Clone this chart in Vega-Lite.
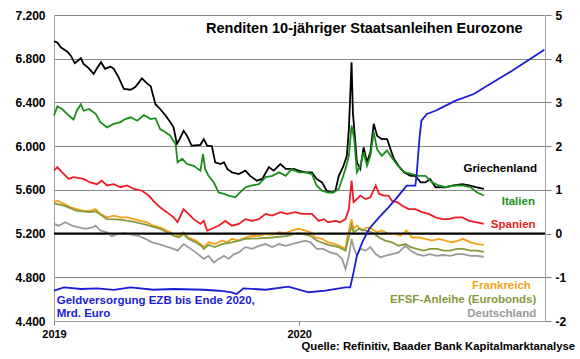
{
  "$schema": "https://vega.github.io/schema/vega-lite/v6.json",
  "width": 491,
  "height": 306,
  "padding": {"left": 14, "top": 9, "right": 2, "bottom": 2},
  "background": "white",
  "config": {"view": {"stroke": null}, "font": "Liberation Sans"},
  "title": {"text": "Quelle: Refinitiv, Baader Bank Kapitalmarktanalyse", "orient": "bottom", "anchor": "end", "frame": "group", "dx": 30, "offset": 2, "fontSize": 11.3, "fontWeight": "bold", "color": "#000000", "font": "Liberation Sans"},
  "datasets": {
    "yields": [
      {"date":"2019-01-01","series":"Griechenland","value":4.40},{"date":"2019-01-06","series":"Griechenland","value":4.37},{"date":"2019-01-11","series":"Griechenland","value":4.26},{"date":"2019-01-21","series":"Griechenland","value":4.16},{"date":"2019-01-26","series":"Griechenland","value":4.07},{"date":"2019-02-01","series":"Griechenland","value":3.90},{"date":"2019-02-10","series":"Griechenland","value":4.01},{"date":"2019-02-14","series":"Griechenland","value":3.88},{"date":"2019-02-22","series":"Griechenland","value":3.78},{"date":"2019-03-01","series":"Griechenland","value":3.65},{"date":"2019-03-06","series":"Griechenland","value":3.78},{"date":"2019-03-12","series":"Griechenland","value":3.92},{"date":"2019-03-18","series":"Griechenland","value":3.77},{"date":"2019-03-26","series":"Griechenland","value":3.82},{"date":"2019-03-31","series":"Griechenland","value":3.77},{"date":"2019-04-07","series":"Griechenland","value":3.58},{"date":"2019-04-15","series":"Griechenland","value":3.31},{"date":"2019-04-25","series":"Griechenland","value":3.29},{"date":"2019-05-02","series":"Griechenland","value":3.35},{"date":"2019-05-12","series":"Griechenland","value":3.55},{"date":"2019-05-19","series":"Griechenland","value":3.44},{"date":"2019-05-25","series":"Griechenland","value":3.37},{"date":"2019-06-01","series":"Griechenland","value":2.96},{"date":"2019-06-08","series":"Griechenland","value":2.85},{"date":"2019-06-16","series":"Griechenland","value":2.70},{"date":"2019-06-23","series":"Griechenland","value":2.55},{"date":"2019-06-28","series":"Griechenland","value":2.43},{"date":"2019-07-03","series":"Griechenland","value":2.05},{"date":"2019-07-07","series":"Griechenland","value":2.16},{"date":"2019-07-13","series":"Griechenland","value":2.35},{"date":"2019-07-18","series":"Griechenland","value":2.24},{"date":"2019-07-25","series":"Griechenland","value":2.01},{"date":"2019-08-07","series":"Griechenland","value":2.03},{"date":"2019-08-12","series":"Griechenland","value":2.16},{"date":"2019-08-17","series":"Griechenland","value":2.01},{"date":"2019-08-24","series":"Griechenland","value":2.00},{"date":"2019-08-29","series":"Griechenland","value":1.63},{"date":"2019-09-06","series":"Griechenland","value":1.59},{"date":"2019-09-11","series":"Griechenland","value":1.63},{"date":"2019-09-16","series":"Griechenland","value":1.48},{"date":"2019-09-23","series":"Griechenland","value":1.40},{"date":"2019-10-03","series":"Griechenland","value":1.36},{"date":"2019-10-13","series":"Griechenland","value":1.44},{"date":"2019-10-20","series":"Griechenland","value":1.32},{"date":"2019-10-30","series":"Griechenland","value":1.21},{"date":"2019-11-07","series":"Griechenland","value":1.25},{"date":"2019-11-17","series":"Griechenland","value":1.52},{"date":"2019-11-24","series":"Griechenland","value":1.44},{"date":"2019-12-04","series":"Griechenland","value":1.59},{"date":"2019-12-12","series":"Griechenland","value":1.48},{"date":"2019-12-24","series":"Griechenland","value":1.48},{"date":"2019-12-31","series":"Griechenland","value":1.44},{"date":"2020-01-10","series":"Griechenland","value":1.40},{"date":"2020-01-20","series":"Griechenland","value":1.40},{"date":"2020-01-27","series":"Griechenland","value":1.25},{"date":"2020-02-04","series":"Griechenland","value":1.17},{"date":"2020-02-11","series":"Griechenland","value":0.98},{"date":"2020-02-19","series":"Griechenland","value":0.94},{"date":"2020-02-24","series":"Griechenland","value":0.98},{"date":"2020-02-29","series":"Griechenland","value":1.32},{"date":"2020-03-07","series":"Griechenland","value":1.55},{"date":"2020-03-12","series":"Griechenland","value":1.78},{"date":"2020-03-15","series":"Griechenland","value":2.39},{"date":"2020-03-17","series":"Griechenland","value":3.15},{"date":"2020-03-19","series":"Griechenland","value":3.92},{"date":"2020-03-21","series":"Griechenland","value":2.77},{"date":"2020-03-23","series":"Griechenland","value":2.39},{"date":"2020-03-27","series":"Griechenland","value":1.63},{"date":"2020-04-01","series":"Griechenland","value":1.48},{"date":"2020-04-06","series":"Griechenland","value":1.97},{"date":"2020-04-11","series":"Griechenland","value":1.63},{"date":"2020-04-16","series":"Griechenland","value":1.86},{"date":"2020-04-21","series":"Griechenland","value":2.51},{"date":"2020-04-26","series":"Griechenland","value":2.24},{"date":"2020-05-03","series":"Griechenland","value":2.16},{"date":"2020-05-11","series":"Griechenland","value":2.16},{"date":"2020-05-16","series":"Griechenland","value":1.93},{"date":"2020-05-21","series":"Griechenland","value":1.71},{"date":"2020-05-28","series":"Griechenland","value":1.55},{"date":"2020-06-05","series":"Griechenland","value":1.40},{"date":"2020-06-15","series":"Griechenland","value":1.32},{"date":"2020-06-22","series":"Griechenland","value":1.32},{"date":"2020-06-30","series":"Griechenland","value":1.17},{"date":"2020-07-07","series":"Griechenland","value":1.17},{"date":"2020-07-14","series":"Griechenland","value":1.25},{"date":"2020-07-22","series":"Griechenland","value":1.06},{"date":"2020-08-06","series":"Griechenland","value":1.06},{"date":"2020-08-18","series":"Griechenland","value":1.10},{"date":"2020-08-31","series":"Griechenland","value":1.13},{"date":"2020-09-10","series":"Griechenland","value":1.10},{"date":"2020-09-20","series":"Griechenland","value":1.06},{"date":"2020-10-02","series":"Griechenland","value":1.02},

      {"date":"2019-01-01","series":"Italien","value":2.70},{"date":"2019-01-06","series":"Italien","value":2.91},{"date":"2019-01-13","series":"Italien","value":2.85},{"date":"2019-01-23","series":"Italien","value":2.70},{"date":"2019-01-30","series":"Italien","value":2.61},{"date":"2019-02-04","series":"Italien","value":2.81},{"date":"2019-02-10","series":"Italien","value":2.96},{"date":"2019-02-14","series":"Italien","value":2.81},{"date":"2019-02-22","series":"Italien","value":2.85},{"date":"2019-03-04","series":"Italien","value":2.74},{"date":"2019-03-11","series":"Italien","value":2.55},{"date":"2019-03-21","series":"Italien","value":2.43},{"date":"2019-03-31","series":"Italien","value":2.51},{"date":"2019-04-10","series":"Italien","value":2.55},{"date":"2019-04-17","series":"Italien","value":2.62},{"date":"2019-04-25","series":"Italien","value":2.66},{"date":"2019-05-05","series":"Italien","value":2.58},{"date":"2019-05-15","series":"Italien","value":2.71},{"date":"2019-05-25","series":"Italien","value":2.62},{"date":"2019-06-01","series":"Italien","value":2.64},{"date":"2019-06-08","series":"Italien","value":2.39},{"date":"2019-06-16","series":"Italien","value":2.32},{"date":"2019-06-23","series":"Italien","value":2.24},{"date":"2019-07-01","series":"Italien","value":2.05},{"date":"2019-07-04","series":"Italien","value":1.63},{"date":"2019-07-11","series":"Italien","value":1.71},{"date":"2019-07-18","series":"Italien","value":1.59},{"date":"2019-07-28","series":"Italien","value":1.55},{"date":"2019-08-07","series":"Italien","value":1.44},{"date":"2019-08-11","series":"Italien","value":1.82},{"date":"2019-08-14","series":"Italien","value":1.48},{"date":"2019-08-19","series":"Italien","value":1.32},{"date":"2019-08-27","series":"Italien","value":1.17},{"date":"2019-09-03","series":"Italien","value":0.94},{"date":"2019-09-11","series":"Italien","value":0.91},{"date":"2019-09-18","series":"Italien","value":0.87},{"date":"2019-09-28","series":"Italien","value":0.83},{"date":"2019-10-05","series":"Italien","value":0.94},{"date":"2019-10-13","series":"Italien","value":1.06},{"date":"2019-10-23","series":"Italien","value":1.10},{"date":"2019-11-02","series":"Italien","value":1.13},{"date":"2019-11-12","series":"Italien","value":1.29},{"date":"2019-11-22","series":"Italien","value":1.32},{"date":"2019-12-02","series":"Italien","value":1.40},{"date":"2019-12-12","series":"Italien","value":1.32},{"date":"2019-12-21","series":"Italien","value":1.48},{"date":"2019-12-31","series":"Italien","value":1.40},{"date":"2020-01-10","series":"Italien","value":1.40},{"date":"2020-01-20","series":"Italien","value":1.36},{"date":"2020-01-27","series":"Italien","value":1.10},{"date":"2020-02-04","series":"Italien","value":0.98},{"date":"2020-02-13","series":"Italien","value":0.94},{"date":"2020-02-21","series":"Italien","value":0.94},{"date":"2020-02-29","series":"Italien","value":1.02},{"date":"2020-03-05","series":"Italien","value":1.25},{"date":"2020-03-10","series":"Italien","value":1.48},{"date":"2020-03-15","series":"Italien","value":1.78},{"date":"2020-03-19","series":"Italien","value":2.47},{"date":"2020-03-23","series":"Italien","value":2.16},{"date":"2020-03-27","series":"Italien","value":1.40},{"date":"2020-04-01","series":"Italien","value":1.55},{"date":"2020-04-06","series":"Italien","value":1.86},{"date":"2020-04-11","series":"Italien","value":1.55},{"date":"2020-04-16","series":"Italien","value":1.78},{"date":"2020-04-21","series":"Italien","value":2.32},{"date":"2020-04-26","series":"Italien","value":1.93},{"date":"2020-05-03","series":"Italien","value":1.78},{"date":"2020-05-11","series":"Italien","value":1.90},{"date":"2020-05-16","series":"Italien","value":1.78},{"date":"2020-05-23","series":"Italien","value":1.63},{"date":"2020-05-31","series":"Italien","value":1.48},{"date":"2020-06-07","series":"Italien","value":1.40},{"date":"2020-06-17","series":"Italien","value":1.36},{"date":"2020-06-27","series":"Italien","value":1.32},{"date":"2020-07-07","series":"Italien","value":1.32},{"date":"2020-07-17","series":"Italien","value":1.17},{"date":"2020-07-27","series":"Italien","value":1.10},{"date":"2020-08-06","series":"Italien","value":1.06},{"date":"2020-08-18","series":"Italien","value":1.10},{"date":"2020-08-31","series":"Italien","value":1.10},{"date":"2020-09-12","series":"Italien","value":1.06},{"date":"2020-09-22","series":"Italien","value":0.94},{"date":"2020-10-02","series":"Italien","value":0.87},

      {"date":"2019-01-01","series":"Spanien","value":1.44},{"date":"2019-01-06","series":"Spanien","value":1.52},{"date":"2019-01-13","series":"Spanien","value":1.40},{"date":"2019-01-23","series":"Spanien","value":1.25},{"date":"2019-01-30","series":"Spanien","value":1.29},{"date":"2019-02-14","series":"Spanien","value":1.25},{"date":"2019-02-24","series":"Spanien","value":1.17},{"date":"2019-03-06","series":"Spanien","value":1.13},{"date":"2019-03-13","series":"Spanien","value":1.21},{"date":"2019-03-21","series":"Spanien","value":1.10},{"date":"2019-03-31","series":"Spanien","value":1.13},{"date":"2019-04-10","series":"Spanien","value":1.06},{"date":"2019-04-20","series":"Spanien","value":1.10},{"date":"2019-04-30","series":"Spanien","value":1.02},{"date":"2019-05-12","series":"Spanien","value":0.98},{"date":"2019-05-22","series":"Spanien","value":0.87},{"date":"2019-05-29","series":"Spanien","value":0.75},{"date":"2019-06-08","series":"Spanien","value":0.60},{"date":"2019-06-18","series":"Spanien","value":0.49},{"date":"2019-06-28","series":"Spanien","value":0.37},{"date":"2019-07-04","series":"Spanien","value":0.26},{"date":"2019-07-13","series":"Spanien","value":0.56},{"date":"2019-07-20","series":"Spanien","value":0.45},{"date":"2019-07-28","series":"Spanien","value":0.33},{"date":"2019-08-07","series":"Spanien","value":0.22},{"date":"2019-08-12","series":"Spanien","value":0.29},{"date":"2019-08-17","series":"Spanien","value":0.07},{"date":"2019-08-24","series":"Spanien","value":0.11},{"date":"2019-09-03","series":"Spanien","value":0.18},{"date":"2019-09-13","series":"Spanien","value":0.29},{"date":"2019-09-23","series":"Spanien","value":0.18},{"date":"2019-10-03","series":"Spanien","value":0.22},{"date":"2019-10-13","series":"Spanien","value":0.33},{"date":"2019-10-23","series":"Spanien","value":0.29},{"date":"2019-11-02","series":"Spanien","value":0.33},{"date":"2019-11-12","series":"Spanien","value":0.45},{"date":"2019-11-22","series":"Spanien","value":0.41},{"date":"2019-12-04","series":"Spanien","value":0.49},{"date":"2019-12-14","series":"Spanien","value":0.45},{"date":"2019-12-26","series":"Spanien","value":0.49},{"date":"2020-01-05","series":"Spanien","value":0.45},{"date":"2020-01-20","series":"Spanien","value":0.45},{"date":"2020-01-30","series":"Spanien","value":0.29},{"date":"2020-02-07","series":"Spanien","value":0.33},{"date":"2020-02-13","series":"Spanien","value":0.26},{"date":"2020-02-24","series":"Spanien","value":0.29},{"date":"2020-03-02","series":"Spanien","value":0.26},{"date":"2020-03-10","series":"Spanien","value":0.33},{"date":"2020-03-15","series":"Spanien","value":0.56},{"date":"2020-03-19","series":"Spanien","value":1.21},{"date":"2020-03-22","series":"Spanien","value":0.72},{"date":"2020-03-27","series":"Spanien","value":0.79},{"date":"2020-04-01","series":"Spanien","value":0.87},{"date":"2020-04-09","series":"Spanien","value":0.79},{"date":"2020-04-16","series":"Spanien","value":0.83},{"date":"2020-04-24","series":"Spanien","value":1.10},{"date":"2020-04-29","series":"Spanien","value":0.91},{"date":"2020-05-06","series":"Spanien","value":0.87},{"date":"2020-05-13","series":"Spanien","value":0.87},{"date":"2020-05-18","series":"Spanien","value":0.75},{"date":"2020-05-26","series":"Spanien","value":0.72},{"date":"2020-06-02","series":"Spanien","value":0.64},{"date":"2020-06-12","series":"Spanien","value":0.56},{"date":"2020-06-22","series":"Spanien","value":0.56},{"date":"2020-07-02","series":"Spanien","value":0.49},{"date":"2020-07-12","series":"Spanien","value":0.45},{"date":"2020-07-22","series":"Spanien","value":0.37},{"date":"2020-08-01","series":"Spanien","value":0.33},{"date":"2020-08-11","series":"Spanien","value":0.33},{"date":"2020-08-21","series":"Spanien","value":0.37},{"date":"2020-08-31","series":"Spanien","value":0.37},{"date":"2020-09-10","series":"Spanien","value":0.29},{"date":"2020-09-20","series":"Spanien","value":0.26},{"date":"2020-10-02","series":"Spanien","value":0.22},

      {"date":"2019-01-01","series":"Frankreich","value":0.72},{"date":"2019-01-06","series":"Frankreich","value":0.75},{"date":"2019-01-16","series":"Frankreich","value":0.68},{"date":"2019-01-26","series":"Frankreich","value":0.60},{"date":"2019-02-04","series":"Frankreich","value":0.56},{"date":"2019-02-14","series":"Frankreich","value":0.52},{"date":"2019-02-24","series":"Frankreich","value":0.52},{"date":"2019-03-04","series":"Frankreich","value":0.56},{"date":"2019-03-11","series":"Frankreich","value":0.45},{"date":"2019-03-21","series":"Frankreich","value":0.37},{"date":"2019-03-31","series":"Frankreich","value":0.41},{"date":"2019-04-10","series":"Frankreich","value":0.37},{"date":"2019-04-20","series":"Frankreich","value":0.37},{"date":"2019-04-30","series":"Frankreich","value":0.33},{"date":"2019-05-10","series":"Frankreich","value":0.29},{"date":"2019-05-19","series":"Frankreich","value":0.26},{"date":"2019-05-29","series":"Frankreich","value":0.18},{"date":"2019-06-08","series":"Frankreich","value":0.14},{"date":"2019-06-18","series":"Frankreich","value":0.07},{"date":"2019-06-28","series":"Frankreich","value":-0.01},{"date":"2019-07-06","series":"Frankreich","value":-0.05},{"date":"2019-07-13","series":"Frankreich","value":0.03},{"date":"2019-07-20","series":"Frankreich","value":-0.09},{"date":"2019-07-31","series":"Frankreich","value":-0.16},{"date":"2019-08-09","series":"Frankreich","value":-0.26},{"date":"2019-08-12","series":"Frankreich","value":-0.31},{"date":"2019-08-19","series":"Frankreich","value":-0.20},{"date":"2019-08-29","series":"Frankreich","value":-0.24},{"date":"2019-09-08","series":"Frankreich","value":-0.16},{"date":"2019-09-16","series":"Frankreich","value":-0.20},{"date":"2019-09-23","series":"Frankreich","value":-0.12},{"date":"2019-10-03","series":"Frankreich","value":-0.16},{"date":"2019-10-13","series":"Frankreich","value":-0.09},{"date":"2019-10-23","series":"Frankreich","value":-0.05},{"date":"2019-11-02","series":"Frankreich","value":-0.06},{"date":"2019-11-12","series":"Frankreich","value":-0.01},{"date":"2019-11-22","series":"Frankreich","value":-0.03},{"date":"2019-12-02","series":"Frankreich","value":0.03},{"date":"2019-12-12","series":"Frankreich","value":0.01},{"date":"2019-12-21","series":"Frankreich","value":0.07},{"date":"2019-12-31","series":"Frankreich","value":0.11},{"date":"2020-01-10","series":"Frankreich","value":0.07},{"date":"2020-01-18","series":"Frankreich","value":0.03},{"date":"2020-01-25","series":"Frankreich","value":-0.09},{"date":"2020-02-04","series":"Frankreich","value":-0.12},{"date":"2020-02-13","series":"Frankreich","value":-0.20},{"date":"2020-02-24","series":"Frankreich","value":-0.24},{"date":"2020-03-05","series":"Frankreich","value":-0.31},{"date":"2020-03-10","series":"Frankreich","value":-0.35},{"date":"2020-03-12","series":"Frankreich","value":-0.12},{"date":"2020-03-19","series":"Frankreich","value":0.33},{"date":"2020-03-22","series":"Frankreich","value":0.11},{"date":"2020-03-27","series":"Frankreich","value":0.18},{"date":"2020-04-04","series":"Frankreich","value":0.07},{"date":"2020-04-11","series":"Frankreich","value":0.14},{"date":"2020-04-18","series":"Frankreich","value":0.11},{"date":"2020-04-26","series":"Frankreich","value":0.03},{"date":"2020-05-03","series":"Frankreich","value":0.07},{"date":"2020-05-13","series":"Frankreich","value":-0.01},{"date":"2020-05-23","series":"Frankreich","value":-0.01},{"date":"2020-05-31","series":"Frankreich","value":-0.05},{"date":"2020-06-09","series":"Frankreich","value":0.07},{"date":"2020-06-17","series":"Frankreich","value":-0.09},{"date":"2020-06-27","series":"Frankreich","value":-0.09},{"date":"2020-07-07","series":"Frankreich","value":-0.12},{"date":"2020-07-17","series":"Frankreich","value":-0.16},{"date":"2020-07-27","series":"Frankreich","value":-0.12},{"date":"2020-08-06","series":"Frankreich","value":-0.16},{"date":"2020-08-15","series":"Frankreich","value":-0.20},{"date":"2020-08-25","series":"Frankreich","value":-0.16},{"date":"2020-09-01","series":"Frankreich","value":-0.12},{"date":"2020-09-12","series":"Frankreich","value":-0.20},{"date":"2020-09-22","series":"Frankreich","value":-0.24},{"date":"2020-10-02","series":"Frankreich","value":-0.26},

      {"date":"2019-01-01","series":"EFSF-Anleihe (Eurobonds)","value":0.69},{"date":"2019-01-16","series":"EFSF-Anleihe (Eurobonds)","value":0.64},{"date":"2019-02-04","series":"EFSF-Anleihe (Eurobonds)","value":0.52},{"date":"2019-02-24","series":"EFSF-Anleihe (Eurobonds)","value":0.49},{"date":"2019-03-04","series":"EFSF-Anleihe (Eurobonds)","value":0.51},{"date":"2019-03-21","series":"EFSF-Anleihe (Eurobonds)","value":0.33},{"date":"2019-04-10","series":"EFSF-Anleihe (Eurobonds)","value":0.32},{"date":"2019-04-30","series":"EFSF-Anleihe (Eurobonds)","value":0.27},{"date":"2019-05-19","series":"EFSF-Anleihe (Eurobonds)","value":0.20},{"date":"2019-06-08","series":"EFSF-Anleihe (Eurobonds)","value":0.11},{"date":"2019-06-28","series":"EFSF-Anleihe (Eurobonds)","value":-0.05},{"date":"2019-07-06","series":"EFSF-Anleihe (Eurobonds)","value":-0.09},{"date":"2019-07-13","series":"EFSF-Anleihe (Eurobonds)","value":-0.01},{"date":"2019-07-20","series":"EFSF-Anleihe (Eurobonds)","value":-0.12},{"date":"2019-07-31","series":"EFSF-Anleihe (Eurobonds)","value":-0.20},{"date":"2019-08-09","series":"EFSF-Anleihe (Eurobonds)","value":-0.29},{"date":"2019-08-12","series":"EFSF-Anleihe (Eurobonds)","value":-0.35},{"date":"2019-08-19","series":"EFSF-Anleihe (Eurobonds)","value":-0.26},{"date":"2019-08-29","series":"EFSF-Anleihe (Eurobonds)","value":-0.31},{"date":"2019-09-08","series":"EFSF-Anleihe (Eurobonds)","value":-0.24},{"date":"2019-09-23","series":"EFSF-Anleihe (Eurobonds)","value":-0.20},{"date":"2019-10-13","series":"EFSF-Anleihe (Eurobonds)","value":-0.12},{"date":"2019-11-02","series":"EFSF-Anleihe (Eurobonds)","value":-0.11},{"date":"2019-11-22","series":"EFSF-Anleihe (Eurobonds)","value":-0.09},{"date":"2019-12-12","series":"EFSF-Anleihe (Eurobonds)","value":-0.06},{"date":"2019-12-31","series":"EFSF-Anleihe (Eurobonds)","value":0.01},{"date":"2020-01-18","series":"EFSF-Anleihe (Eurobonds)","value":-0.05},{"date":"2020-01-27","series":"EFSF-Anleihe (Eurobonds)","value":-0.16},{"date":"2020-02-13","series":"EFSF-Anleihe (Eurobonds)","value":-0.26},{"date":"2020-02-29","series":"EFSF-Anleihe (Eurobonds)","value":-0.31},{"date":"2020-03-10","series":"EFSF-Anleihe (Eurobonds)","value":-0.39},{"date":"2020-03-13","series":"EFSF-Anleihe (Eurobonds)","value":-0.20},{"date":"2020-03-19","series":"EFSF-Anleihe (Eurobonds)","value":0.18},{"date":"2020-03-22","series":"EFSF-Anleihe (Eurobonds)","value":0.03},{"date":"2020-03-30","series":"EFSF-Anleihe (Eurobonds)","value":0.11},{"date":"2020-04-09","series":"EFSF-Anleihe (Eurobonds)","value":0.07},{"date":"2020-04-18","series":"EFSF-Anleihe (Eurobonds)","value":0.03},{"date":"2020-04-29","series":"EFSF-Anleihe (Eurobonds)","value":-0.09},{"date":"2020-05-08","series":"EFSF-Anleihe (Eurobonds)","value":-0.16},{"date":"2020-05-18","series":"EFSF-Anleihe (Eurobonds)","value":-0.20},{"date":"2020-05-28","series":"EFSF-Anleihe (Eurobonds)","value":-0.28},{"date":"2020-06-07","series":"EFSF-Anleihe (Eurobonds)","value":-0.24},{"date":"2020-06-15","series":"EFSF-Anleihe (Eurobonds)","value":-0.31},{"date":"2020-06-24","series":"EFSF-Anleihe (Eurobonds)","value":-0.35},{"date":"2020-07-04","series":"EFSF-Anleihe (Eurobonds)","value":-0.39},{"date":"2020-07-14","series":"EFSF-Anleihe (Eurobonds)","value":-0.35},{"date":"2020-07-24","series":"EFSF-Anleihe (Eurobonds)","value":-0.35},{"date":"2020-08-03","series":"EFSF-Anleihe (Eurobonds)","value":-0.39},{"date":"2020-08-13","series":"EFSF-Anleihe (Eurobonds)","value":-0.39},{"date":"2020-08-23","series":"EFSF-Anleihe (Eurobonds)","value":-0.35},{"date":"2020-09-01","series":"EFSF-Anleihe (Eurobonds)","value":-0.35},{"date":"2020-09-12","series":"EFSF-Anleihe (Eurobonds)","value":-0.39},{"date":"2020-09-22","series":"EFSF-Anleihe (Eurobonds)","value":-0.39},{"date":"2020-10-02","series":"EFSF-Anleihe (Eurobonds)","value":-0.42},

      {"date":"2019-01-01","series":"Deutschland","value":0.22},{"date":"2019-01-08","series":"Deutschland","value":0.18},{"date":"2019-01-18","series":"Deutschland","value":0.26},{"date":"2019-01-28","series":"Deutschland","value":0.18},{"date":"2019-02-07","series":"Deutschland","value":0.14},{"date":"2019-02-17","series":"Deutschland","value":0.11},{"date":"2019-02-27","series":"Deutschland","value":0.14},{"date":"2019-03-04","series":"Deutschland","value":0.18},{"date":"2019-03-11","series":"Deutschland","value":0.07},{"date":"2019-03-21","series":"Deutschland","value":0.03},{"date":"2019-03-28","series":"Deutschland","value":-0.06},{"date":"2019-04-07","series":"Deutschland","value":-0.01},{"date":"2019-04-17","series":"Deutschland","value":0.01},{"date":"2019-04-27","series":"Deutschland","value":-0.03},{"date":"2019-05-07","series":"Deutschland","value":-0.05},{"date":"2019-05-17","series":"Deutschland","value":-0.12},{"date":"2019-05-27","series":"Deutschland","value":-0.20},{"date":"2019-06-06","series":"Deutschland","value":-0.24},{"date":"2019-06-16","series":"Deutschland","value":-0.29},{"date":"2019-06-26","series":"Deutschland","value":-0.34},{"date":"2019-07-04","series":"Deutschland","value":-0.39},{"date":"2019-07-13","series":"Deutschland","value":-0.24},{"date":"2019-07-20","series":"Deutschland","value":-0.31},{"date":"2019-07-31","series":"Deutschland","value":-0.43},{"date":"2019-08-09","series":"Deutschland","value":-0.54},{"date":"2019-08-12","series":"Deutschland","value":-0.58},{"date":"2019-08-19","series":"Deutschland","value":-0.51},{"date":"2019-08-27","series":"Deutschland","value":-0.66},{"date":"2019-09-03","series":"Deutschland","value":-0.58},{"date":"2019-09-11","series":"Deutschland","value":-0.51},{"date":"2019-09-18","series":"Deutschland","value":-0.58},{"date":"2019-09-26","series":"Deutschland","value":-0.47},{"date":"2019-10-03","series":"Deutschland","value":-0.43},{"date":"2019-10-13","series":"Deutschland","value":-0.31},{"date":"2019-10-23","series":"Deutschland","value":-0.35},{"date":"2019-11-02","series":"Deutschland","value":-0.28},{"date":"2019-11-12","series":"Deutschland","value":-0.24},{"date":"2019-11-22","series":"Deutschland","value":-0.31},{"date":"2019-12-02","series":"Deutschland","value":-0.24},{"date":"2019-12-12","series":"Deutschland","value":-0.28},{"date":"2019-12-21","series":"Deutschland","value":-0.24},{"date":"2019-12-31","series":"Deutschland","value":-0.20},{"date":"2020-01-10","series":"Deutschland","value":-0.16},{"date":"2020-01-18","series":"Deutschland","value":-0.20},{"date":"2020-01-27","series":"Deutschland","value":-0.35},{"date":"2020-02-06","series":"Deutschland","value":-0.35},{"date":"2020-02-16","series":"Deutschland","value":-0.43},{"date":"2020-02-26","series":"Deutschland","value":-0.47},{"date":"2020-03-05","series":"Deutschland","value":-0.58},{"date":"2020-03-10","series":"Deutschland","value":-0.81},{"date":"2020-03-15","series":"Deutschland","value":-0.51},{"date":"2020-03-19","series":"Deutschland","value":-0.12},{"date":"2020-03-22","series":"Deutschland","value":-0.31},{"date":"2020-03-27","series":"Deutschland","value":-0.51},{"date":"2020-04-01","series":"Deutschland","value":-0.35},{"date":"2020-04-09","series":"Deutschland","value":-0.39},{"date":"2020-04-16","series":"Deutschland","value":-0.31},{"date":"2020-04-24","series":"Deutschland","value":-0.47},{"date":"2020-05-01","series":"Deutschland","value":-0.54},{"date":"2020-05-08","series":"Deutschland","value":-0.51},{"date":"2020-05-18","series":"Deutschland","value":-0.47},{"date":"2020-05-28","series":"Deutschland","value":-0.43},{"date":"2020-06-07","series":"Deutschland","value":-0.28},{"date":"2020-06-15","series":"Deutschland","value":-0.39},{"date":"2020-06-24","series":"Deutschland","value":-0.47},{"date":"2020-07-04","series":"Deutschland","value":-0.51},{"date":"2020-07-14","series":"Deutschland","value":-0.47},{"date":"2020-07-24","series":"Deutschland","value":-0.51},{"date":"2020-08-03","series":"Deutschland","value":-0.49},{"date":"2020-08-13","series":"Deutschland","value":-0.51},{"date":"2020-08-23","series":"Deutschland","value":-0.47},{"date":"2020-09-01","series":"Deutschland","value":-0.47},{"date":"2020-09-12","series":"Deutschland","value":-0.51},{"date":"2020-09-22","series":"Deutschland","value":-0.51},{"date":"2020-10-02","series":"Deutschland","value":-0.53}
    ],
    "money": [
      {"date":"2019-01-01","money":4677},{"date":"2019-01-16","money":4708},{"date":"2019-02-10","money":4693},{"date":"2019-03-06","money":4699},{"date":"2019-03-31","money":4684},{"date":"2019-04-25","money":4708},{"date":"2019-05-29","money":4686},{"date":"2019-06-28","money":4693},{"date":"2019-08-12","money":4686},{"date":"2019-09-03","money":4677},{"date":"2019-09-21","money":4665},{"date":"2019-09-30","money":4647},{"date":"2019-10-10","money":4699},{"date":"2019-11-12","money":4686},{"date":"2019-12-16","money":4714},{"date":"2020-01-15","money":4663},{"date":"2020-02-09","money":4677},{"date":"2020-03-10","money":4708},{"date":"2020-03-17","money":4708},{"date":"2020-03-22","money":4846},{"date":"2020-03-27","money":4998},{"date":"2020-04-04","money":5120},{"date":"2020-04-14","money":5242},{"date":"2020-04-29","money":5349},{"date":"2020-05-13","money":5440},{"date":"2020-05-28","money":5547},{"date":"2020-06-09","money":5638},{"date":"2020-06-22","money":5638},{"date":"2020-06-24","money":5745},{"date":"2020-06-28","money":6065},{"date":"2020-07-01","money":6233},{"date":"2020-07-09","money":6294},{"date":"2020-07-22","money":6324},{"date":"2020-08-01","money":6355},{"date":"2020-08-21","money":6416},{"date":"2020-09-17","money":6477},{"date":"2020-09-29","money":6523},{"date":"2020-11-13","money":6690},{"date":"2020-12-31","money":6882}
    ],
    "labels": [
      {"date":"2020-12-20","value":1.48,"series":"Griechenland"},
      {"date":"2020-12-17","value":0.72,"series":"Italien"},
      {"date":"2020-12-18","value":0.20,"series":"Spanien"},
      {"date":"2020-12-11","value":-1.21,"series":"Frankreich"},
      {"date":"2020-12-19","value":-1.52,"series":"EFSF-Anleihe (Eurobonds)"},
      {"date":"2020-12-19","value":-1.84,"series":"Deutschland"}
    ]
  },
  "encoding": {
    "x": {
      "field": "date", "type": "temporal",
      "scale": {"type": "utc", "domain": [{"year": 2019, "month": 1, "date": 1, "utc": true}, {"year": 2021, "month": 1, "date": 1, "utc": true}]},
      "axis": {"values": [{"year": 2019, "month": 1, "date": 1, "utc": true}, {"year": 2020, "month": 1, "date": 1, "utc": true}], "format": "%Y", "formatType": "utc", "labelFlush": false, "domain": true, "ticks": true, "tickSize": 4, "tickColor": "#808080", "domainColor": "#a0a0a0", "labelFontSize": 11, "labelFontWeight": "bold", "labelColor": "#000000", "labelPadding": 3, "grid": false, "title": null, "labelFont": "Liberation Sans"}
    }
  },
  "layer": [
    {
      "layer": [
        {
          "data": {"name": "yields"},
          "mark": {"type": "line", "strokeWidth": 1.8},
          "encoding": {
            "y": {"field": "value", "type": "quantitative", "scale": {"domain": [-2, 5]},
              "axis": {"orient": "right", "values": [-2, -1, 0, 1, 2, 3, 4, 5], "labelExpr": "'' + datum.value", "grid": true, "gridColor": "#8a8a8a", "gridWidth": 1, "domain": true, "ticks": true, "tickSize": 6, "tickColor": "#808080", "domainColor": "#a0a0a0", "labelPadding": 4, "labelFontSize": 12, "labelFontWeight": "bold", "labelColor": "#000000", "title": null, "labelFont": "Liberation Sans"}},
            "color": {"field": "series", "type": "nominal", "legend": null,
              "scale": {"domain": ["Griechenland", "Italien", "Spanien", "Frankreich", "EFSF-Anleihe (Eurobonds)", "Deutschland"], "range": ["#000000", "#1b8f1b", "#ee1c25", "#f5a21b", "#86993e", "#9a9a9a"]}}
          }
        },
        {
          "data": {"values": [{"date": "2019-01-01", "end": "2021-01-01", "value": 0}]},
          "mark": {"type": "rule", "color": "#000000", "strokeWidth": 2},
          "encoding": {
            "x2": {"field": "end"},
            "y": {"field": "value", "type": "quantitative"}
          }
        },
        {
          "data": {"name": "labels"},
          "mark": {"type": "text", "align": "right", "baseline": "middle", "fontSize": 11.5, "fontWeight": "bold", "font": "Liberation Sans"},
          "encoding": {
            "y": {"field": "value", "type": "quantitative"},
            "text": {"field": "series"},
            "color": {"field": "series", "type": "nominal", "legend": null}
          }
        },
        {
          "data": {"values": [{"date": "2020-04-07", "value": 4.68, "label": "Renditen 10-jähriger Staatsanleihen Eurozone"}]},
          "mark": {"type": "text", "align": "center", "baseline": "middle", "fontSize": 14.5, "fontWeight": "bold", "color": "#000000", "font": "Liberation Sans"},
          "encoding": {
            "y": {"field": "value", "type": "quantitative"},
            "text": {"field": "label"}
          }
        }
      ]
    },
    {
      "layer": [
        {
          "data": {"name": "money"},
          "mark": {"type": "line", "color": "#1c1cd4", "strokeWidth": 1.8},
          "encoding": {
            "y": {"field": "money", "type": "quantitative", "scale": {"domain": [4400, 7200]},
              "axis": {"orient": "left", "values": [4400, 4800, 5200, 5600, 6000, 6400, 6800, 7200], "labelExpr": "replace(format(datum.value, ','), ',', '.')", "grid": false, "domain": true, "ticks": false, "labelPadding": 9, "labelFontSize": 12, "labelFontWeight": "bold", "labelColor": "#000000", "domainColor": "#a0a0a0", "title": null, "labelFont": "Liberation Sans"}}
          }
        },
        {
          "data": {"values": [{"date": "2019-01-05", "money": 4635, "label": "Geldversorgung EZB bis Ende 2020,|Mrd. Euro"}]},
          "mark": {"type": "text", "align": "left", "baseline": "top", "lineBreak": "|", "lineHeight": 12.5, "fontSize": 11.5, "fontWeight": "bold", "color": "#1c1cd4", "font": "Liberation Sans"},
          "encoding": {
            "y": {"field": "money", "type": "quantitative"},
            "text": {"field": "label"}
          }
        }
      ]
    }
  ],
  "resolve": {"scale": {"y": "independent"}}
}
